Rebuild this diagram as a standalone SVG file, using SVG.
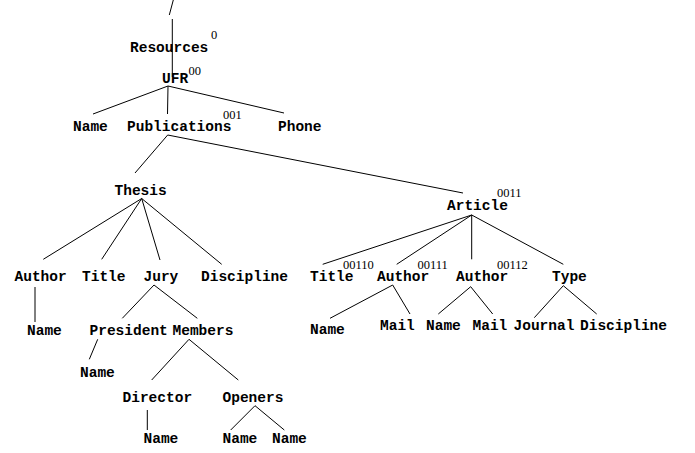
<svg xmlns="http://www.w3.org/2000/svg" width="695" height="453" viewBox="0 0 695 453">
<style>
.n{font-family:"Liberation Mono","Courier New",monospace;font-weight:bold;font-size:14.5px;fill:#000}
.s{font-family:"Liberation Serif","Times New Roman",serif;font-size:12.5px;fill:#000}
.e line{stroke:#000;stroke-width:1;fill:none}
</style>
<rect width="695" height="453" fill="#fff"/>
<g class="e" id="connectors">
<line x1="169.3" y1="15" x2="173.3" y2="0"/>
<line x1="172.3" y1="19" x2="172.3" y2="77"/>
<line x1="168" y1="86" x2="93" y2="114"/>
<line x1="168" y1="86" x2="167.5" y2="114"/>
<line x1="168" y1="86" x2="284" y2="113"/>
<line x1="167.7" y1="135" x2="135" y2="173"/>
<line x1="167.7" y1="135" x2="463" y2="193"/>
<line x1="141.7" y1="198.5" x2="43.3" y2="259.3"/>
<line x1="141.7" y1="198.5" x2="101.7" y2="259.3"/>
<line x1="141.7" y1="198.5" x2="160" y2="260"/>
<line x1="141.7" y1="198.5" x2="221.7" y2="264.3"/>
<line x1="471.7" y1="215" x2="322.7" y2="264.3"/>
<line x1="471.7" y1="215" x2="396.7" y2="264.3"/>
<line x1="471.7" y1="215" x2="471.7" y2="259.3"/>
<line x1="471.7" y1="215" x2="563.3" y2="264.3"/>
<line x1="35" y1="287" x2="35" y2="322"/>
<line x1="154" y1="285" x2="122.3" y2="318.3"/>
<line x1="154" y1="285" x2="197.3" y2="318.3"/>
<line x1="97.7" y1="339.3" x2="89.3" y2="359.3"/>
<line x1="189" y1="339.3" x2="151.7" y2="380"/>
<line x1="189" y1="339.3" x2="238.3" y2="380"/>
<line x1="147.3" y1="410" x2="147.3" y2="430"/>
<line x1="255" y1="405.7" x2="230.7" y2="430"/>
<line x1="255" y1="405.7" x2="284.3" y2="430"/>
<line x1="392.7" y1="285" x2="330" y2="318.3"/>
<line x1="392.7" y1="285" x2="410" y2="314"/>
<line x1="470.7" y1="286.7" x2="438.3" y2="314"/>
<line x1="470.7" y1="286.7" x2="492.7" y2="314"/>
<line x1="563.3" y1="285.7" x2="534.3" y2="317.7"/>
<line x1="563.3" y1="285.7" x2="596.7" y2="314"/>
</g>
<g id="resources"><text class="n" x="130" y="52">Resources</text><text class="s" x="211" y="38.5">0</text></g>
<g id="ufr"><text class="n" x="162" y="83">UFR</text><text class="s" x="188.5" y="75">00</text></g>
<g id="name-ufr"><text class="n" x="73" y="131">Name</text></g>
<g id="publications"><text class="n" x="127" y="131">Publications</text><text class="s" x="223" y="119">001</text></g>
<g id="phone"><text class="n" x="278" y="131">Phone</text></g>
<g id="thesis"><text class="n" x="114.5" y="195">Thesis</text></g>
<g id="article"><text class="n" x="447" y="210">Article</text><text class="s" x="497" y="197">0011</text></g>
<g id="thesis-author"><text class="n" x="14.5" y="281">Author</text></g>
<g id="thesis-title"><text class="n" x="82" y="281">Title</text></g>
<g id="jury"><text class="n" x="143.5" y="281">Jury</text></g>
<g id="thesis-discipline"><text class="n" x="201" y="281">Discipline</text></g>
<g id="article-title"><text class="n" x="310" y="281">Title</text><text class="s" x="343" y="269">00110</text></g>
<g id="article-author1"><text class="n" x="377" y="281">Author</text><text class="s" x="417.5" y="269">00111</text></g>
<g id="article-author2"><text class="n" x="456" y="281">Author</text><text class="s" x="497" y="269">00112</text></g>
<g id="type"><text class="n" x="552" y="281">Type</text></g>
<g id="thesis-author-name"><text class="n" x="27" y="335">Name</text></g>
<g id="president"><text class="n" x="89.5" y="335">President</text></g>
<g id="members"><text class="n" x="172.5" y="335">Members</text></g>
<g id="author1-name"><text class="n" x="310" y="334">Name</text></g>
<g id="author1-mail"><text class="n" x="380" y="330">Mail</text></g>
<g id="author2-name"><text class="n" x="426" y="330">Name</text></g>
<g id="author2-mail"><text class="n" x="472.5" y="330">Mail</text></g>
<g id="journal"><text class="n" x="513.5" y="330">Journal</text></g>
<g id="type-discipline"><text class="n" x="580" y="330">Discipline</text></g>
<g id="president-name"><text class="n" x="80" y="377">Name</text></g>
<g id="director"><text class="n" x="122.5" y="402">Director</text></g>
<g id="openers"><text class="n" x="222.5" y="402">Openers</text></g>
<g id="director-name"><text class="n" x="143.5" y="443">Name</text></g>
<g id="openers-name1"><text class="n" x="222.5" y="443">Name</text></g>
<g id="openers-name2"><text class="n" x="272" y="443">Name</text></g>
</svg>
